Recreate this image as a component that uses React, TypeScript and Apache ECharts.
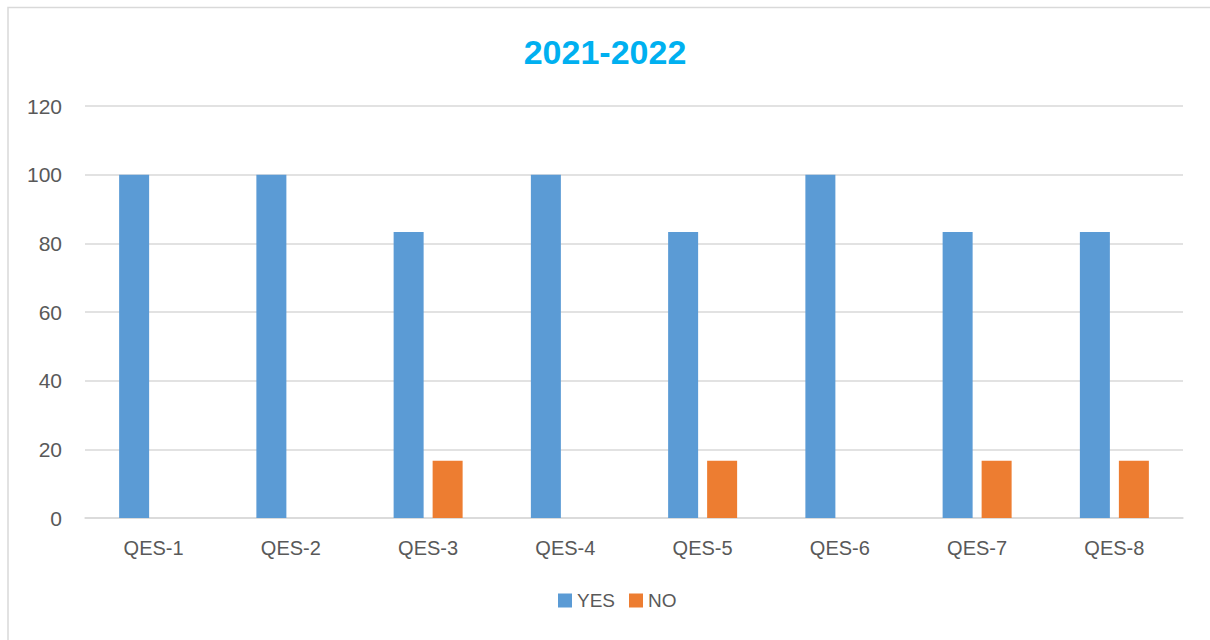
import React, { useEffect, useRef } from "react";
import * as echarts from "echarts";

const categories = ["QES-1", "QES-2", "QES-3", "QES-4", "QES-5", "QES-6", "QES-7", "QES-8"];
const yesValues = [100, 100, 83.33, 100, 83.33, 100, 83.33, 83.33];
const noValues = [0, 0, 16.67, 0, 16.67, 0, 16.67, 16.67];
const titleText = "2021-2022";

export default function App() {
  const ref = useRef<HTMLDivElement>(null);
  useEffect(() => {
    if (!ref.current) return;
    const chart = echarts.init(ref.current, null, { renderer: "svg" });
    const font = "'Liberation Sans', Arial, sans-serif";
    chart.setOption({
      animation: false,
      backgroundColor: "#ffffff",
      title: {
        text: titleText,
        left: "center",
        top: 30,
        textStyle: { color: "#00B0F0", fontSize: 34, fontWeight: "bold", fontFamily: font },
      },
      graphic: [
        {
          type: "rect",
          shape: { x: 8, y: 7.5, width: 1230, height: 660 },
          style: { fill: "none", stroke: "#d9d9d9", lineWidth: 1.5 },
          silent: true,
        },
      ],
      legend: {
        bottom: 25,
        left: 553,
        itemWidth: 14,
        itemHeight: 14,
        itemGap: 14,
        icon: "rect",
        textStyle: { color: "#595959", fontSize: 19, fontFamily: font },
        data: ["YES", "NO"],
      },
      grid: { left: 85, right: 27, top: 106, bottom: 122, containLabel: false },
      xAxis: {
        type: "category",
        data: categories,
        axisLine: { show: true, lineStyle: { color: "#d9d9d9", width: 1.5 } },
        axisTick: { show: false },
        axisLabel: { color: "#595959", fontSize: 20, margin: 20, fontFamily: font },
      },
      yAxis: {
        type: "value",
        min: 0,
        max: 120,
        interval: 20,
        axisLine: { show: false },
        axisTick: { show: false },
        splitLine: { lineStyle: { color: "#d9d9d9", width: 1.5 } },
        axisLabel: { color: "#595959", fontSize: 21, margin: 23, fontFamily: font },
      },
      series: [
        {
          name: "YES",
          type: "bar",
          data: yesValues,
          barWidth: 30,
          barGap: "30%",
          itemStyle: { color: "#5B9BD5" },
        },
        {
          name: "NO",
          type: "bar",
          data: noValues,
          barWidth: 30,
          itemStyle: { color: "#ED7D31" },
        },
      ],
    });
    return () => chart.dispose();
  }, []);
  return (
    <div
      ref={ref}
      style={{ position: "absolute", left: 0, top: 0, width: 1210, height: 640 }}
    />
  );
}
